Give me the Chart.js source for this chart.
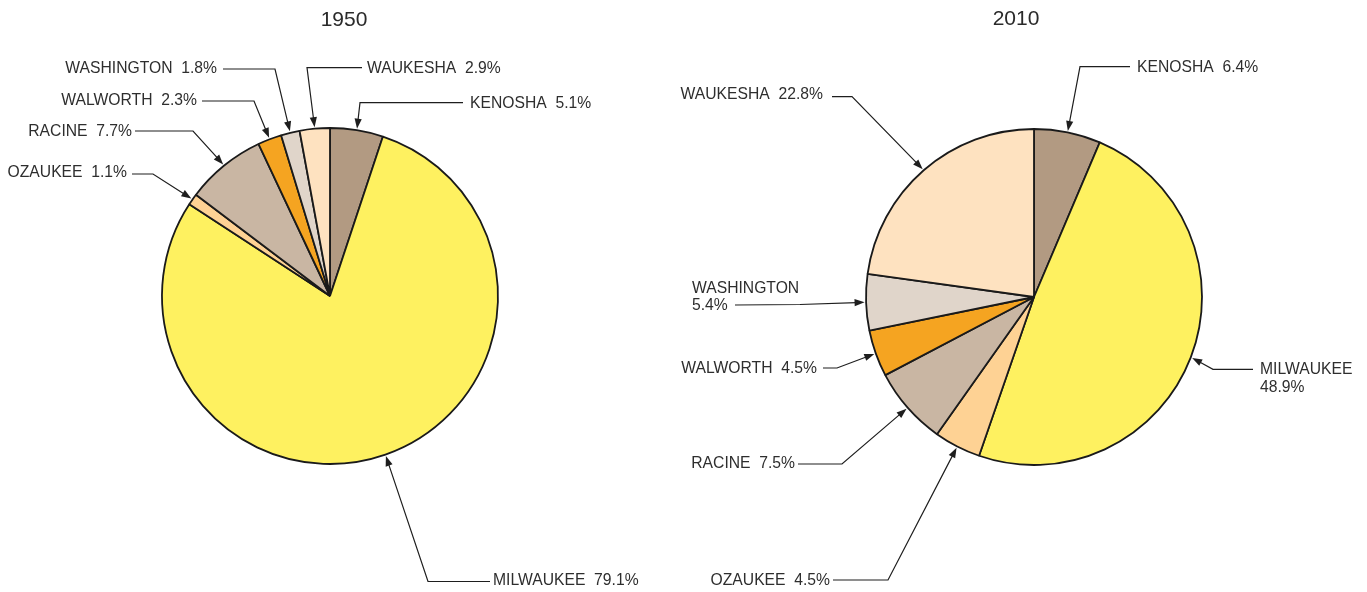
<!DOCTYPE html>
<html>
<head>
<meta charset="utf-8">
<script src="https://cdn.jsdelivr.net/npm/chart.js@4.4.1/dist/chart.umd.min.js"></script>
<style>
  html, body { margin: 0; padding: 0; background: #ffffff; }
  #wrap { position: relative; width: 1367px; height: 592px; overflow: hidden; }
  canvas { position: absolute; left: 0; top: 0; }
</style>
</head>
<body>
<div id="wrap">
  <canvas id="c1950" width="1367" height="592"></canvas>
  <canvas id="c2010" width="1367" height="592"></canvas>
</div>
<script>
// ---- data ----
const counties = ['KENOSHA', 'MILWAUKEE', 'OZAUKEE', 'RACINE', 'WALWORTH', 'WASHINGTON', 'WAUKESHA'];
const years = ['1950', '2010'];
const share1950 = [5.1, 79.1, 1.1, 7.7, 2.3, 1.8, 2.9];
const share2010 = [6.4, 48.9, 4.5, 7.5, 4.5, 5.4, 22.8];
const sliceColors = ['#B29A82', '#FEF160', '#FED294', '#C9B6A3', '#F5A421', '#E0D5CA', '#FEE2C0'];

const FONT = '"Liberation Sans", Arial, Helvetica, sans-serif';

const calloutPlugin = {
  id: 'callouts',
  afterDraw(chart, args, opts) {
    const ctx = chart.ctx;
    const meta = chart.getDatasetMeta(0);
    const values = chart.data.datasets[0].data;
    const names = chart.data.labels;
    ctx.save();
    ctx.fillStyle = '#2a2a2a';
    ctx.font = '21px ' + FONT;
    ctx.textAlign = 'center';
    ctx.textBaseline = 'middle';
    ctx.fillText(opts.title, opts.titleX, opts.titleY);

    ctx.font = '15.7px ' + FONT;
    opts.items.forEach((it, i) => {
      const arc = meta.data[i];
      const p = arc.getProps(['x', 'y', 'startAngle', 'endAngle', 'outerRadius'], true);
      const a = (p.startAngle + p.endAngle) / 2;
      const tip = { x: p.x + Math.cos(a) * (p.outerRadius + 1.5), y: p.y + Math.sin(a) * (p.outerRadius + 1.5) };
      const val = values[i].toFixed(1) + '%';
      const lines = it.split ? [names[i], val] : [names[i] + '  ' + val];
      ctx.fillStyle = '#2e2e2e';
      ctx.textAlign = it.align;
      ctx.textBaseline = 'middle';
      lines.forEach((t, k) => ctx.fillText(t, it.tx, it.ty + k * 17.5));

      // leader line
      ctx.strokeStyle = '#1e1e1e';
      ctx.lineWidth = 1.2;
      ctx.beginPath();
      ctx.moveTo(it.s[0], it.s[1]);
      ctx.lineTo(it.k[0], it.k[1]);
      const dx = tip.x - it.k[0], dy = tip.y - it.k[1];
      const len = Math.hypot(dx, dy);
      const ux = dx / len, uy = dy / len;
      const hl = 10, hw = 3.6;
      ctx.lineTo(tip.x - ux * hl * 0.8, tip.y - uy * hl * 0.8);
      ctx.stroke();
      // arrow head
      ctx.fillStyle = '#1e1e1e';
      ctx.beginPath();
      ctx.moveTo(tip.x, tip.y);
      ctx.lineTo(tip.x - ux * hl - uy * hw, tip.y - uy * hl + ux * hw);
      ctx.lineTo(tip.x - ux * hl + uy * hw, tip.y - uy * hl - ux * hw);
      ctx.closePath();
      ctx.fill();
    });
    ctx.restore();
  }
};

function makePie(id, values, cx, cy, r, callouts) {
  const half = r + 0.9;
  return new Chart(document.getElementById(id), {
    type: 'pie',
    data: {
      labels: counties,
      datasets: [{
        data: values,
        backgroundColor: sliceColors,
        borderColor: '#1a1a1a',
        borderWidth: 1.8,
        borderAlign: 'center'
      }]
    },
    options: {
      responsive: false,
      animation: false,
      devicePixelRatio: 1,
      rotation: 0,
      layout: {
        padding: { left: cx - half, right: 1367 - (cx + half), top: cy - half, bottom: 592 - (cy + half) }
      },
      plugins: {
        legend: { display: false },
        tooltip: { enabled: false },
        callouts: callouts
      },
      events: []
    },
    plugins: [calloutPlugin]
  });
}

makePie('c1950', share1950, 330, 296, 168, {
  title: years[0], titleX: 344, titleY: 20,
  items: [
    { align: 'left',  tx: 470, ty: 103.5, s: [463, 102.7], k: [360, 102.7] },
    { align: 'left',  tx: 493, ty: 581,   s: [490, 581.5], k: [428, 581.5] },
    { align: 'right', tx: 127, ty: 173,   s: [132, 174],   k: [153, 174] },
    { align: 'right', tx: 132, ty: 131.5, s: [135, 131],   k: [193, 131] },
    { align: 'right', tx: 197, ty: 101,   s: [202, 101],   k: [254, 101] },
    { align: 'right', tx: 217, ty: 68.5,  s: [223, 69],    k: [275, 69] },
    { align: 'left',  tx: 367, ty: 68.5,  s: [362, 67.7],  k: [307, 67.7] }
  ]
});

makePie('c2010', share2010, 1034, 297, 168, {
  title: years[1], titleX: 1016, titleY: 19.5,
  items: [
    { align: 'left',  tx: 1137, ty: 68,  s: [1130, 66.7], k: [1080, 66.7] },
    { align: 'left',  tx: 1260, ty: 370, s: [1253, 369.3], k: [1213, 369.3], split: true },
    { align: 'right', tx: 830, ty: 581,  s: [833, 580], k: [888, 580] },
    { align: 'right', tx: 795, ty: 464,  s: [798, 464], k: [842, 464] },
    { align: 'right', tx: 817, ty: 369,  s: [823, 368], k: [837, 368] },
    { align: 'left',  tx: 692, ty: 288.5, s: [735, 305], k: [800, 304.5], split: true },
    { align: 'right', tx: 823, ty: 95,   s: [832, 96.7], k: [852, 96.7] }
  ]
});
</script>
</body>
</html>
